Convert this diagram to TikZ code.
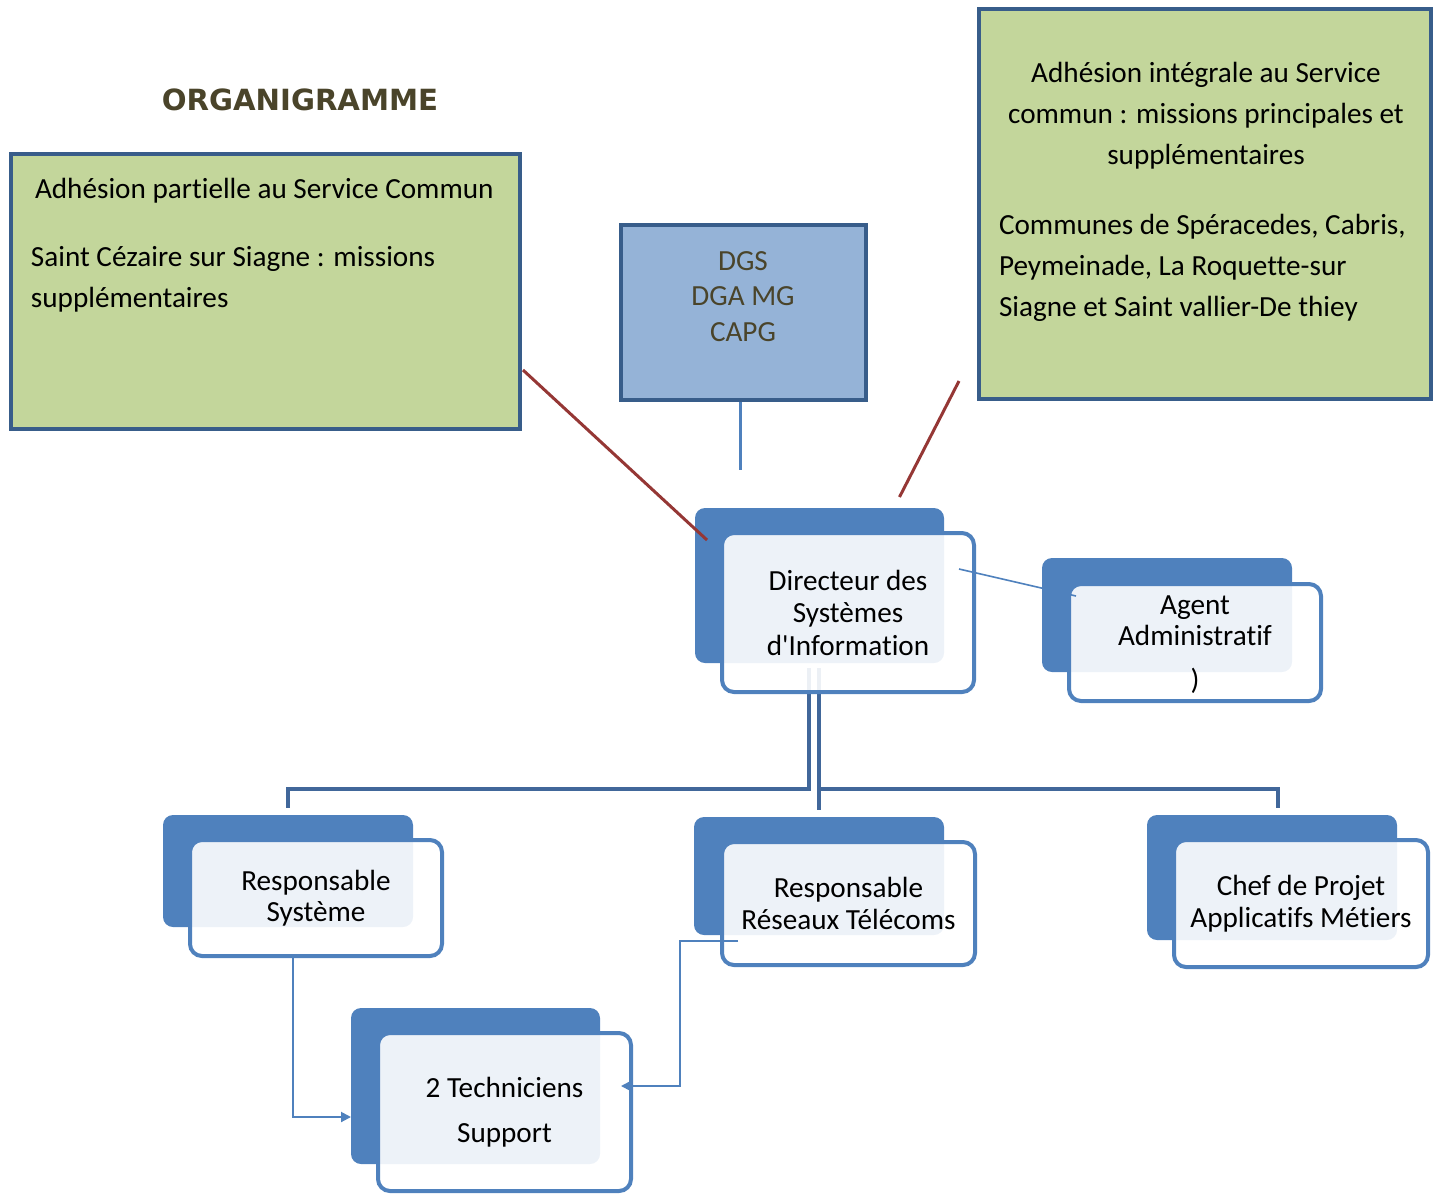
\documentclass[tikz,border=0pt]{standalone}
\usepackage{fontspec}
\setmainfont{Carlito}[Ligatures={TeX,NoCommon}, Contextuals=NoAlternate]
\newfontfamily\titlefont{DejaVu Sans}
\usetikzlibrary{arrows.meta, positioning}
\definecolor{accent}{HTML}{4F81BD}
\definecolor{darkacc}{HTML}{41679A}
\definecolor{frame}{HTML}{385D8A}
\definecolor{leaf}{HTML}{C3D69B}
\definecolor{sky}{HTML}{95B3D7}
\definecolor{olive}{HTML}{4A442A}
\definecolor{brick}{HTML}{953735}
\pgfdeclarelayer{background}
\pgfsetlayers{background,main}

\begin{document}
\begin{tikzpicture}[x=0.5pt, y=-0.5pt, font=\fontsize{14.6}{16.25}\selectfont]
        \tikzstyle{every node}=[inner sep=0pt, outer sep=0pt]
        \tikzstyle{back}=[rectangle, rounded corners=5pt, fill=accent, minimum width=125pt]
        \tikzstyle{front}=[rectangle, rounded corners=6pt, draw=accent, line width=2pt, fill=white, fill opacity=0.9, text opacity=1, minimum width=126pt, align=center]
        \tikzstyle{greenbox}=[rectangle, draw=frame, line width=2pt, fill=leaf]
        \tikzstyle{greentext}=[font=\fontsize{14.6}{20.5}\selectfont]
        \tikzstyle{orgline}=[darkacc, line width=2pt]
        \tikzstyle{thinline}=[accent, line width=1pt, -{Triangle[width=5pt,length=5pt]}]
        \useasboundingbox (0,0) rectangle (1435,1196);

        \node[text=olive, font=\titlefont\bfseries\fontsize{14.6}{17}\selectfont] (title) at (300,100) {ORGANIGRAMME};

        % adhesion boxes
        \node[greenbox, minimum width=254.5pt, minimum height=137.5pt] (partiel) at (265.5,291.5) {};
        \node[greentext, anchor=north west, align=left] (partieltxt) at (31,178) {\kern2pt Adhésion partielle au Service Commun\\[13.5pt]Saint Cézaire sur Siagne : missions\\supplémentaires};
        \node[greenbox, minimum width=226pt, minimum height=195pt] (integral) at (1205,204) {};
        \node[greentext, anchor=north, align=center] (integraltxt) at (1206,62) {Adhésion intégrale au Service\\commun : missions principales et\\supplémentaires};
        \node[greentext, anchor=north west, align=left] (communestxt) at (999,214) {Communes de Spéracedes, Cabris,\\Peymeinade, La Roquette-sur\\Siagne et Saint vallier-De thiey};

        \node[rectangle, draw=frame, line width=2pt, fill=sky, minimum width=122.5pt, minimum height=87.5pt] (dgs) at (743.5,312.5) {};
        \node[text=olive, align=center, font=\fontsize{14.6}{17.75}\selectfont] (dgstxt) at (743,296.5) {DGS\\DGA MG\\CAPG};

        % hierarchy
        \node[back, minimum width=124.5pt, minimum height=77.5pt] (dirback) at (819.5,585.5) {};
        \node[front, minimum height=79.5pt] (dir) at (848,612.5) {Directeur des\\Systèmes\\d\textquotesingle Information};
        \node[back, minimum height=57pt] (agentback) at (1167,615) {};
        \node[front, minimum height=58.5pt, font=\fontsize{14.6}{15.5}\selectfont] (agent) at (1195,642.5) {\\[-4pt]Agent\\Administratif\\[6.5pt])};
        \node[back, minimum height=56pt] (rsback) at (288,871) {};
        \node[front, minimum height=58pt, font=\fontsize{14.6}{15.5}\selectfont] (rs) at (316,898) {Responsable\\Système};
        \node[back, minimum height=59pt] (rrtback) at (819,876) {};
        \node[front, minimum width=126.5pt, minimum height=61.5pt] (rrt) at (848.5,903.5) {Responsable\\Réseaux Télécoms};
        \node[back, minimum height=62.5pt] (chefback) at (1272,877.5) {};
        \node[front, minimum width=127pt, minimum height=63.5pt] (chef) at (1301,903.5) {Chef de Projet\\Applicatifs Métiers};
        \node[back, minimum width=124.5pt, minimum height=78pt] (techback) at (475.5,1086) {};
        \node[front, minimum width=126.5pt, minimum height=79pt, font=\fontsize{14.6}{22.5}\selectfont] (tech) at (504.5,1112) {2 Techniciens\\Support};

        \begin{pgfonlayer}{background}
            \draw[accent, line width=1.5pt] ([xshift=-1.75pt]dgs.south) -- ++(0,70);
            \draw[orgline] ([xshift=-19.5pt,yshift=12pt]dir.south) |- ([yshift=13pt]rsback.north) -- ([yshift=3.5pt]rsback.north);
            \draw[orgline] ([xshift=-14.5pt,yshift=12pt]dir.south) -- ([yshift=3.5pt]rrtback.north);
            \draw[orgline] ([xshift=-14.5pt,yshift=-48.5pt]dir.south) -| ([xshift=3pt,yshift=3.5pt]chefback.north);
        \end{pgfonlayer}

        \draw[accent, line width=0.8pt] ([xshift=-7.5pt,yshift=21.75pt]dir.east) -- ([xshift=3.5pt,yshift=23.25pt]agent.west);
        \draw[thinline] ([xshift=-11.5pt]rs.south) |- ([yshift=-15.5pt]techback.west);
        \draw[thinline] ([xshift=8pt,yshift=-18.5pt]rrt.west) -- ++(-29pt,0) |- ([xshift=-5pt,yshift=13pt]tech.east);

        \draw[brick, line width=1.5pt] ([xshift=1.5pt,yshift=-39.25pt]partiel.east) -- ([xshift=6pt,yshift=22.75pt]dirback.west);
        \draw[brick, line width=1.5pt] ([xshift=-10pt,yshift=-88.5pt]integral.west) -- ([xshift=40pt,yshift=5.5pt]dirback.north);
\end{tikzpicture}
\end{document}
